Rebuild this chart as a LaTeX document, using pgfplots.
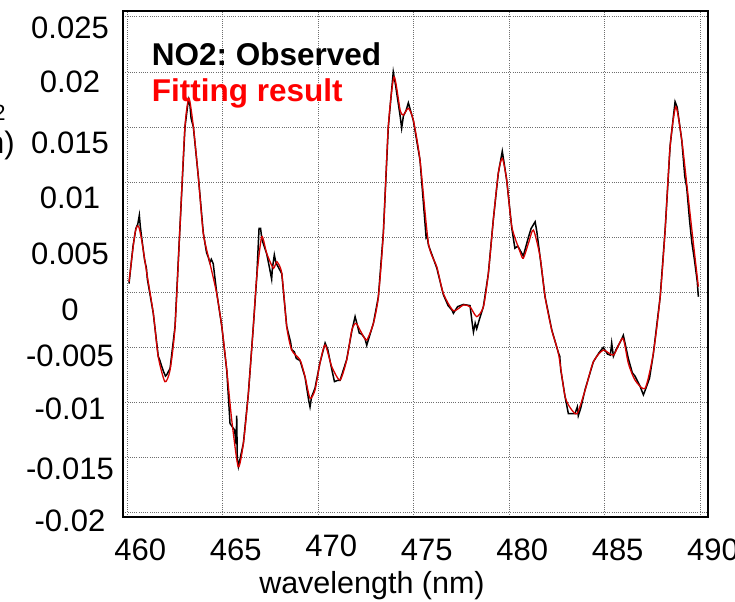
\documentclass[border=0pt]{standalone}
\usepackage{pgfplots}
\pgfplotsset{compat=1.18}
\usepackage{fontspec}
\setmainfont{Liberation Sans}
\frenchspacing
\definecolor{fitred}{RGB}{215,0,0}
\definecolor{gridgray}{RGB}{110,110,110}
\begin{document}
\begin{tikzpicture}
\begin{axis}[
  at={(0,0)}, anchor=south west,
  scale only axis, width=585bp, height=505.7bp,
  xmin=459.79, xmax=490.43, ymin=-0.02036, ymax=0.02553,
  axis line style={line width=1.8bp, black},
  xtick={460,465,470,475,480,485,490},
  xticklabels={460,465,\raisebox{4bp}{470},475,480,485,490},
  ytick={-0.02,-0.015,-0.01,-0.005,0,0.005,0.01,0.015,0.02,0.025},
  yticklabels={\raisebox{-19bp}{-0.02},\raisebox{-22bp}{-0.015},\raisebox{-17bp}{-0.01},\raisebox{-19bp}{-0.005},\raisebox{-28bp}{0},\raisebox{-27bp}{0.005},\raisebox{-26bp}{0.01},\raisebox{-26bp}{0.015},\raisebox{-21bp}{0.02},\raisebox{-22bp}{0.025}},
  scaled y ticks=false,
  major tick length=0pt,
  xticklabel style={anchor=base, xshift=13bp, yshift=-44bp, font=\fontsize{31bp}{36bp}\selectfont},
  yticklabel style={anchor=base, xshift=-53.3bp, font=\fontsize{31bp}{36bp}\selectfont},
  xlabel={wavelength (nm)},
  xlabel style={at={(axis description cs:0.4251,0)}, anchor=center, yshift=-69bp, font=\fontsize{30.5bp}{36bp}\selectfont},
  grid=major,
  major grid style={gridgray, line width=0.7bp, dash pattern=on 0.9bp off 1.3bp},
  clip=true,
]
\addplot[black, line width=1.5bp] coordinates {
(460.09,0.0008) (460.30,0.0042) (460.45,0.0058) (460.55,0.0062) (460.63,0.0070)
(460.68,0.0060) (460.75,0.0050) (460.90,0.0030) (461.00,0.0022) (461.05,0.0012)
(461.36,-0.0019) (461.62,-0.0058) (461.71,-0.0062) (461.78,-0.0066) (461.90,-0.0072)
(462.00,-0.0076) (462.06,-0.0075) (462.24,-0.0069) (462.50,-0.0031) (462.76,0.0060)
(463.02,0.0150) (463.20,0.0175) (463.28,0.0170) (463.34,0.0158) (463.46,0.0150)
(463.72,0.0105) (463.98,0.0054) (464.15,0.0036) (464.24,0.0032) (464.32,0.0027)
(464.40,0.0030) (464.50,0.0026) (464.68,0.0000) (464.95,-0.0031) (465.21,-0.0071)
(465.38,-0.0119) (465.62,-0.0125) (465.70,-0.0138) (465.73,-0.0112) (465.76,-0.0150)
(465.82,-0.0158) (466.08,-0.0137) (466.34,-0.0092) (466.60,-0.0031) (466.78,0.0014)
(466.90,0.0058) (466.98,0.0058) (467.05,0.0048) (467.30,0.0035) (467.45,0.0022)
(467.56,0.0012) (467.60,0.0022) (467.70,0.0034) (467.78,0.0027) (468.09,0.0017)
(468.35,-0.0031) (468.55,-0.0045) (468.61,-0.0052) (468.75,-0.0054) (468.85,-0.0060)
(469.05,-0.0062) (469.31,-0.0077) (469.50,-0.0098) (469.57,-0.0104) (469.65,-0.0095)
(469.83,-0.0087) (470.09,-0.0064) (470.36,-0.0046) (470.50,-0.0052) (470.71,-0.0070)
(470.85,-0.0081) (471.00,-0.0080) (471.14,-0.0080) (471.49,-0.0061) (471.76,-0.0035)
(471.93,-0.0022) (472.05,-0.0030) (472.15,-0.0037) (472.28,-0.0038) (472.45,-0.0042)
(472.54,-0.0048) (472.89,-0.0028) (473.15,-0.0004) (473.41,0.0054) (473.67,0.0150)
(473.93,0.0200) (474.05,0.0188) (474.29,0.0160) (474.37,0.0149) (474.46,0.0160)
(474.60,0.0165) (474.72,0.0172) (474.98,0.0156) (475.33,0.0120) (475.65,0.0050)
(475.70,0.0052) (475.77,0.0043) (476.21,0.0022) (476.55,-0.0002) (476.80,-0.0012)
(477.00,-0.0016) (477.08,-0.0019) (477.30,-0.0013) (477.60,-0.0011) (477.95,-0.0012)
(478.08,-0.0030) (478.13,-0.0036) (478.22,-0.0028) (478.30,-0.0033) (478.45,-0.0024)
(478.65,-0.0013) (478.91,0.0017) (479.17,0.0066) (479.43,0.0108) (479.64,0.0128)
(479.87,0.0102) (480.14,0.0058) (480.30,0.0040) (480.45,0.0042) (480.74,0.0033)
(481.01,0.0050) (481.15,0.0058) (481.36,0.0064) (481.45,0.0055) (481.62,0.0032)
(481.88,-0.0004) (482.23,-0.0034) (482.58,-0.0055) (482.65,-0.0058) (482.70,-0.0070)
(482.93,-0.0095) (483.10,-0.0110) (483.28,-0.0110) (483.45,-0.0110) (483.57,-0.0104)
(483.62,-0.0112) (483.75,-0.0105) (483.98,-0.0088) (484.41,-0.0063) (484.70,-0.0055)
(484.93,-0.0050) (485.15,-0.0056) (485.30,-0.0057) (485.37,-0.0046) (485.46,-0.0058)
(485.60,-0.0052) (485.85,-0.0044) (485.98,-0.0039) (486.24,-0.0060) (486.45,-0.0073)
(486.59,-0.0076) (486.85,-0.0085) (487.03,-0.0093) (487.12,-0.0089) (487.35,-0.0078)
(487.55,-0.0056) (487.91,-0.0004) (488.17,0.0057) (488.43,0.0133) (488.69,0.0173)
(488.80,0.0168) (489.04,0.0138) (489.20,0.0105) (489.30,0.0095) (489.45,0.0065)
(489.57,0.0045) (489.70,0.0030) (489.85,0.0010) (489.91,-0.0004)
};
\addplot[fitred, line width=1.3bp, smooth, tension=0.4] coordinates {
(460.09,0.00096) (460.40,0.00535) (460.58,0.00602) (460.75,0.00475) (461.02,0.00175)
(461.36,-0.00188) (461.62,-0.00584) (461.97,-0.00811) (462.24,-0.00705) (462.50,-0.00312)
(462.76,0.00595) (463.02,0.01503) (463.23,0.01760) (463.46,0.01503) (463.72,0.01049)
(463.98,0.00535) (464.33,0.00263) (464.68,-0.00009) (464.95,-0.00312) (465.21,-0.00705)
(465.47,-0.01159) (465.81,-0.01583) (466.08,-0.01370) (466.34,-0.00917) (466.60,-0.00312)
(466.78,0.00142) (467.04,0.00505) (467.30,0.00354) (467.65,0.00218) (467.83,0.00278)
(468.09,0.00172) (468.35,-0.00312) (468.61,-0.00524) (469.05,-0.00614) (469.31,-0.00766)
(469.57,-0.00962) (469.83,-0.00887) (470.09,-0.00644) (470.36,-0.00478) (470.71,-0.00675)
(471.14,-0.00796) (471.49,-0.00614) (471.76,-0.00342) (471.98,-0.00281) (472.28,-0.00372)
(472.54,-0.00433) (472.89,-0.00281) (473.15,-0.00040) (473.41,0.00535) (473.67,0.01503)
(473.97,0.01956) (474.29,0.01654) (474.46,0.01609) (474.72,0.01670) (474.98,0.01564)
(475.33,0.01201) (475.77,0.00445) (476.21,0.00232) (476.55,-0.00009) (477.08,-0.00167)
(477.60,-0.00115) (477.95,-0.00131) (478.30,-0.00221) (478.65,-0.00131) (478.91,0.00172)
(479.17,0.00656) (479.43,0.01080) (479.64,0.01216) (479.87,0.01019) (480.14,0.00595)
(480.57,0.00368) (480.74,0.00309) (481.01,0.00445) (481.27,0.00565) (481.62,0.00323)
(481.88,-0.00040) (482.23,-0.00342) (482.58,-0.00554) (482.93,-0.00947) (483.28,-0.01068)
(483.57,-0.01098) (483.98,-0.00887) (484.41,-0.00630) (484.93,-0.00524) (485.46,-0.00569)
(485.95,-0.00417) (486.24,-0.00644) (486.59,-0.00796) (487.12,-0.00871) (487.55,-0.00554)
(487.91,-0.00040) (488.17,0.00565) (488.43,0.01321) (488.73,0.01684) (489.04,0.01382)
(489.30,0.00989) (489.57,0.00565) (489.91,0.00051)
};
\node[anchor=base west, inner sep=0pt, font=\fontsize{31.5bp}{36bp}\selectfont\bfseries, text=black]
  at (rel axis cs:0.0485,0.8932) {NO2: Observed};
\node[anchor=base west, inner sep=0pt, font=\fontsize{31.5bp}{36bp}\selectfont\bfseries, text=red]
  at (rel axis cs:0.0485,0.8206) {Fitting result};
\end{axis}
\node[anchor=base east, inner sep=0pt, font=\fontsize{31bp}{36bp}\selectfont]
  at (-117.6bp,388bp) {Cross section cm\raisebox{8bp}{\fontsize{22bp}{22bp}\selectfont 2}};
\node[anchor=base east, inner sep=0pt, font=\fontsize{31bp}{36bp}\selectfont]
  at (-108.3bp,362.7bp) {(differential absorption)};
\pgfresetboundingbox
\useasboundingbox (-123.3bp,-85.3bp) rectangle (611.7bp,516.7bp);
\end{tikzpicture}
\end{document}
